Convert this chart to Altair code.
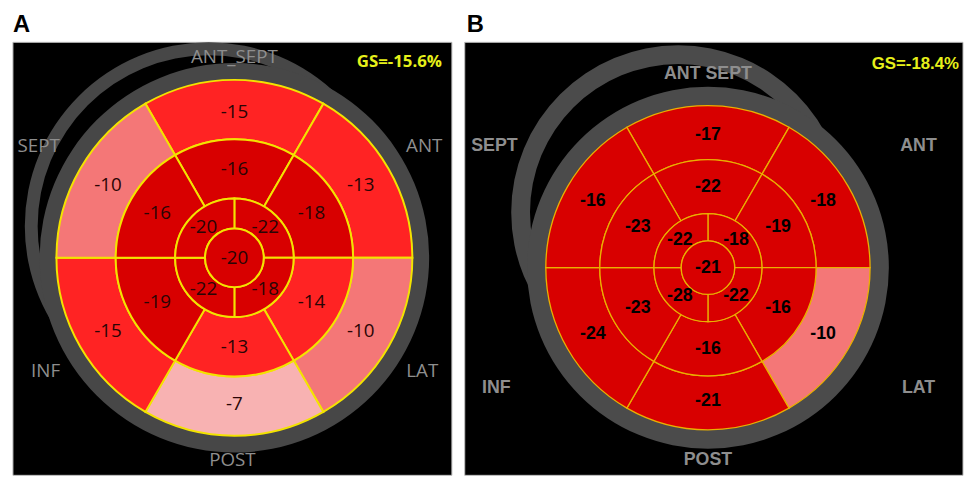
import math
import altair as alt
import pandas as pd

# ---------------- data ----------------
region_labels = ["ANT_SEPT", "ANT", "LAT", "POST", "INF", "SEPT"]
region_labels_b = ["ANT  SEPT", "ANT", "LAT", "POST", "INF", "SEPT"]

# basal & mid order: ANT_SEPT(top), ANT, LAT, POST, INF, SEPT (clockwise)
a_basal = [-15, -13, -10, -7, -15, -10]
a_mid = [-16, -18, -14, -13, -19, -16]
# apical order: upper-right, lower-right, lower-left, upper-left
a_apical = [-22, -18, -22, -20]
a_apex = [-20]
a_gs = "GS=-15.6%"

b_basal = [-17, -18, -10, -21, -24, -16]
b_mid = [-22, -19, -16, -16, -23, -23]
b_apical = [-18, -22, -28, -22]
b_apex = [-21]
b_gs = "GS=-18.4%"

hex_centers = [0, 60, 120, 180, 240, 300]
quad_centers = [45, 135, 225, 315]

# strain colour bands (threshold scale)
band_edges = [-15.5, -11.5, -8.5]
band_colors = ["#d80000", "#ff2323", "#f47777", "#f8b2b2"]


def segments(basal, mid, apical, apex, cfg):
    cx, cy, R = cfg["cx"], cfg["cy"], cfg["R"]
    rows = []
    spec = [
        (basal, hex_centers, 30, 0.667, 1.0, 0.82),
        (mid, hex_centers, 30, 0.333, 0.667, 0.5),
        (apical, quad_centers, 45, 0.165, 0.333, 0.245),
        (apex, [0], 180, 0.0, 0.165, 0.0),
    ]
    for vals, centers, half, r_in, r_out, r_lab in spec:
        for v, tc in zip(vals, centers):
            rows.append(dict(
                cx=cx, cy=cy, t1=tc - half, t2=tc + half,
                r_in=r_in, r_out=r_out, v=v, txt=str(v),
                lx=cx + r_lab * R * math.sin(math.radians(tc)),
                ly=cy - r_lab * R * math.cos(math.radians(tc)),
            ))
    return pd.DataFrame(rows)


def panel(title, basal, mid, apical, apex, gs, labels, cfg):
    W, H, R = cfg["W"], cfg["H"], cfg["R"]
    xs = alt.Scale(domain=[0, W], nice=False, zero=False)
    ys = alt.Scale(domain=[0, H], nice=False, zero=False, reverse=True)
    ts = alt.Scale(domain=[-90, 450], range=[-math.pi / 2, 2.5 * math.pi])
    rs = alt.Scale(type="linear", domain=[0, 1.2], range=[0, 1.2 * R], zero=True, nice=False)

    X = lambda f: alt.X(f, type="quantitative", scale=xs, axis=None)
    Y = lambda f: alt.Y(f, type="quantitative", scale=ys, axis=None)

    box = alt.Chart(pd.DataFrame([cfg["box"]], columns=["x0", "y0", "x1", "y1"])).mark_rect(
        color="black", stroke="#bdbdbd", strokeWidth=1
    ).encode(x=X("x0"), x2="x1", y=Y("y0"), y2="y1")

    rings = pd.DataFrame([
        dict(cx=cfg["bcx"], cy=cfg["bcy"], t1=0, t2=360, r_in=cfg["b_in"], r_out=cfg["b_out"]),
        dict(cx=cfg["cx"], cy=cfg["cy"], t1=0, t2=360, r_in=0.99, r_out=cfg["m_out"]),
    ])
    ring_layers = []
    for i in range(2):
        ring_layers.append(
            alt.Chart(rings.iloc[[i]]).mark_arc(color=cfg["ring"]).encode(
                x=X("cx"), y=Y("cy"),
                theta=alt.Theta("t1:Q", scale=ts, stack=None), theta2="t2:Q",
                radius=alt.Radius("r_out:Q", scale=rs), radius2="r_in:Q",
            )
        )

    seg = segments(basal, mid, apical, apex, cfg)
    arcs = alt.Chart(seg).mark_arc(stroke=cfg["line"], strokeWidth=cfg["lw"]).encode(
        x=X("cx"), y=Y("cy"),
        theta=alt.Theta("t1:Q", scale=ts, stack=None), theta2="t2:Q",
        radius=alt.Radius("r_out:Q", scale=rs), radius2="r_in:Q",
        color=alt.Color("v:Q", scale=alt.Scale(type="threshold", domain=band_edges, range=band_colors), legend=None),
    )
    nums = alt.Chart(seg).mark_text(
        font=cfg["font"], fontSize=cfg["nsize"], fontWeight=cfg["nweight"],
        color=cfg["ncolor"], baseline="middle", align="center",
    ).encode(x=X("lx"), y=Y("ly"), text="txt:N")

    lab_df = pd.DataFrame(dict(txt=labels, lx=[p[0] for p in cfg["labpos"]], ly=[p[1] for p in cfg["labpos"]]))
    labs = alt.Chart(lab_df).mark_text(
        font=cfg["font"], fontSize=cfg["lsize"], fontWeight=cfg["nweight"],
        color="#8e8e8e", baseline="middle", align="center",
    ).encode(x=X("lx"), y=Y("ly"), text="txt:N")

    gs_df = pd.DataFrame(dict(txt=[gs], lx=[cfg["gs"][0]], ly=[cfg["gs"][1]]))
    gst = alt.Chart(gs_df).mark_text(
        font=cfg["font"], fontSize=17, fontWeight="bold", color="#e6f01a",
        baseline="middle", align="right",
    ).encode(x=X("lx"), y=Y("ly"), text="txt:N")

    t_df = pd.DataFrame(dict(txt=[title], lx=[cfg["title"][0]], ly=[cfg["title"][1]]))
    tt = alt.Chart(t_df).mark_text(
        font="Liberation Sans", fontSize=24, fontWeight="bold", color="black",
        baseline="alphabetic", align="left",
    ).encode(x=X("lx"), y=Y("ly"), text="txt:N")

    return alt.layer(box, *ring_layers, arcs, nums, labs, gst, tt).properties(width=W, height=H)


cfg_a = dict(
    W=449, H=470, box=(5, 32, 449, 470), cx=229, cy=250, R=180, m_out=197 / 180,
    bcx=203, bcy=218, b_in=173 / 180, b_out=186 / 180, ring="#474747",
    line="#f3e300", lw=2, font="Open Sans", nsize=19, nweight="normal", ncolor="#2a0505", lsize=19,
    labpos=[(229, 47), (421, 137), (419, 365), (227, 455), (38, 365), (31, 137)],
    gs=(439, 52), title=(5, 22),
)
cfg_b = dict(
    W=504, H=470, box=(0, 32, 504, 470), cx=246, cy=260, R=164, m_out=183 / 164,
    bcx=216, bcy=204, b_in=150 / 164, b_out=169 / 164, ring="#4b4b4b",
    line="#eab000", lw=1.3, font="Liberation Sans", nsize=18, nweight="bold", ncolor="#000000", lsize=18,
    labpos=[(246, 64), (459, 137), (459, 382), (246, 455), (32, 382), (30, 137)],
    gs=(500, 54), title=(2, 22),
)

pa = panel("A", a_basal, a_mid, a_apical, a_apex, a_gs, region_labels, cfg_a)
pb = panel("B", b_basal, b_mid, b_apical, b_apex, b_gs, region_labels_b, cfg_b)

chart = alt.hconcat(pa, pb, spacing=11).resolve_scale(
    x="independent", y="independent", theta="independent", radius="independent", color="independent"
).properties(padding=0, background="white").configure_view(strokeWidth=0)

chart.save("out.html", embed_options={"renderer": "svg", "actions": False})
